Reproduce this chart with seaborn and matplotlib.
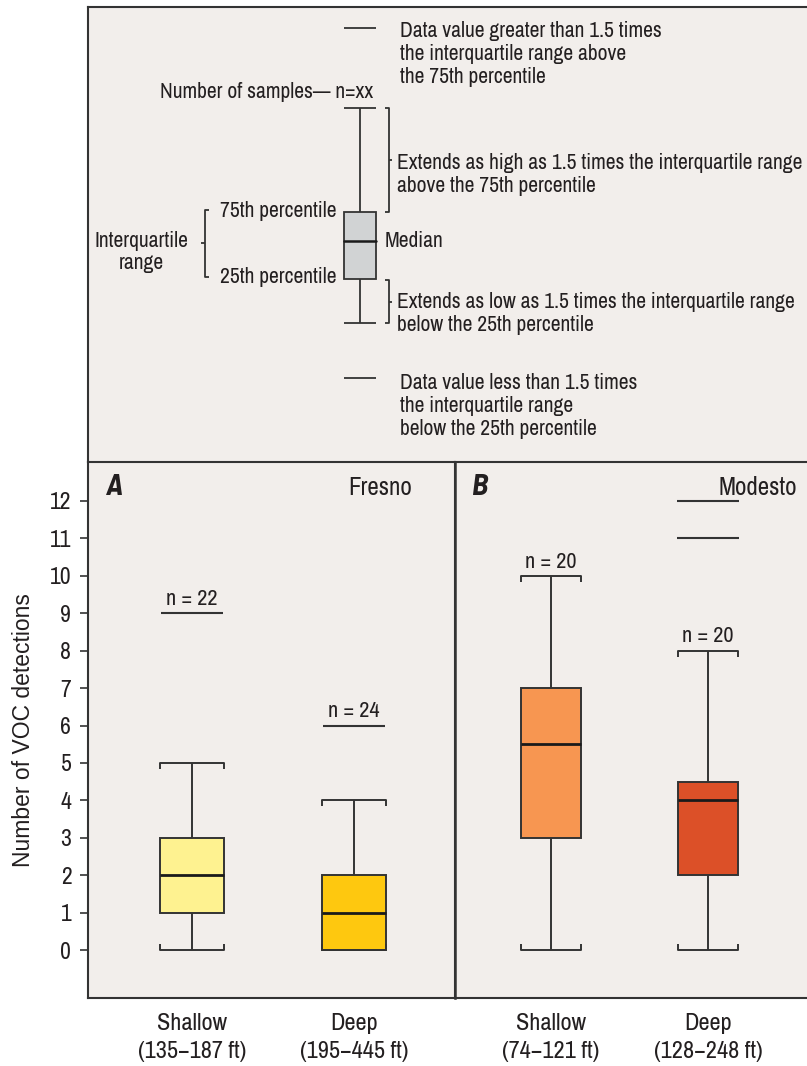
import matplotlib
matplotlib.use("Agg")
import matplotlib.pyplot as plt
from matplotlib.patches import Rectangle
import seaborn as sns
import pandas as pd

# five-number summaries: low whisker, Q1, median, Q3, high whisker
groups_a = ["Shallow A", "Deep A"]
groups_b = ["Shallow B", "Deep B"]
labels_a = ["Shallow\n(135\u2212187 ft)", "Deep\n(195\u2212445 ft)"]
labels_b = ["Shallow\n(74\u2212121 ft)", "Deep\n(128\u2212248 ft)"]
summary = {
    "Shallow A": [0, 1, 2, 3, 5],
    "Deep A": [0, 0, 1, 2, 4],
    "Shallow B": [0, 3, 5.5, 7, 10],
    "Deep B": [0, 2, 4, 4.5, 8],
}
outliers = {"Shallow A": [9], "Deep A": [6], "Shallow B": [], "Deep B": [11, 12]}
n_samples = {"Shallow A": 22, "Deep A": 24, "Shallow B": 20, "Deep B": 20}
n_label_at = {"Shallow A": 9, "Deep A": 6, "Shallow B": 10, "Deep B": 8}
colors = {"Shallow A": "#fef290", "Deep A": "#fec80f", "Shallow B": "#f79651", "Deep B": "#dc5028"}
y_ticks = list(range(0, 13))

BG = "#f2eeeb"
EDGE = "#333333"
TXT = "#231f20"
NARROW = ["Archivo Narrow", "Barlow Semi Condensed", "DejaVu Sans"]
BOLD_NARROW = ["Barlow Semi Condensed", "Liberation Sans", "DejaVu Sans"]

sns.set_theme(style="white")
plt.rcParams["font.family"] = NARROW

W, H = 807, 1066
fig = plt.figure(figsize=(W / 100, H / 100), dpi=100)
fig.patch.set_facecolor("white")


def frac(x0, y0, x1, y1):
    return [x0 / W, 1 - y1 / H, (x1 - x0) / W, (y1 - y0) / H]


# ---------- explanation panel (drawn in pixel coordinates) ----------
leg = fig.add_axes(frac(88, 7, 860, 462))
leg.set_xlim(88, 860)
leg.set_ylim(462, 7)
leg.set_facecolor(BG)
leg.set_xticks([])
leg.set_yticks([])
for side, sp in leg.spines.items():
    sp.set_color(EDGE)
    sp.set_linewidth(1.5)
    sp.set_visible(side in ("left", "top"))

lk = dict(color=EDGE, lw=1.3, solid_capstyle="butt")
fs_leg = 15.5
leg.plot([344, 376], [28, 28], **lk)
leg.plot([344, 376], [378, 378], **lk)
leg.plot([344, 376], [108, 108], **lk)
leg.plot([344, 376], [323, 323], **lk)
leg.plot([360, 360], [108, 212], **lk)
leg.plot([360, 360], [279, 323], **lk)
leg.add_patch(Rectangle((344, 212), 32, 67, facecolor="#d1d3d4", edgecolor=EDGE, lw=1.3))
leg.plot([344, 376], [241, 241], color="#1a1a1a", lw=1.8)
# right brackets
leg.plot([385, 389, 389, 385], [108, 108, 212, 212], **lk)
leg.plot([389, 392], [160, 160], **lk)
leg.plot([385, 389, 389, 385], [280, 280, 323, 323], **lk)
leg.plot([389, 392], [302, 302], **lk)
# left bracket
leg.plot([209, 205, 205, 209], [210, 210, 277, 277], **lk)
leg.plot([205, 201], [243, 243], **lk)

tk = dict(fontsize=fs_leg, color=TXT, va="center")
leg.text(400, 31, "Data value greater than 1.5 times", **tk)
leg.text(400, 54, "the interquartile range above", **tk)
leg.text(400, 77, "the 75th percentile", **tk)
leg.text(373, 92, "Number of samples\u2014 n=xx", ha="right", **tk)
leg.text(397, 163, "Extends as high as 1.5 times the interquartile range", **tk)
leg.text(397, 186, "above the 75th percentile", **tk)
leg.text(336, 211, "75th percentile", ha="right", **tk)
leg.text(385, 241, "Median", **tk)
leg.text(336, 277, "25th percentile", ha="right", **tk)
leg.text(141, 241, "Interquartile", ha="center", **tk)
leg.text(141, 263, "range", ha="center", **tk)
leg.text(397, 302, "Extends as low as 1.5 times the interquartile range", **tk)
leg.text(397, 325, "below the 25th percentile", **tk)
leg.text(400, 383, "Data value less than 1.5 times", **tk)
leg.text(400, 406, "the interquartile range", **tk)
leg.text(400, 429, "below the 25th percentile", **tk)

# ---------- data panels ----------
ax_a = fig.add_axes(frac(88, 462, 455, 998))
ax_b = fig.add_axes(frac(455, 462, 830, 998))


def draw_panel(ax, groups, labels, width, xlim, letter, city, letter_x, city_x):
    df = pd.DataFrame(
        [(g, v) for g in groups for v in summary[g]], columns=["group", "value"]
    )
    sns.boxplot(
        data=df, x="group", y="value", hue="group", order=groups, hue_order=groups,
        palette=[colors[g] for g in groups], saturation=1, legend=False, whis=(0, 100),
        width=width, linecolor=EDGE, linewidth=1.4, fliersize=0,
        capwidths=width, medianprops=dict(color="#1a1a1a", linewidth=2.0),
        ax=ax,
    )
    # bracket-like caps
    for cont in ax.containers:
        caps = getattr(cont, "caps", [])
        for i, cap in enumerate(caps):
            cap.set_marker(2 if i % 2 == 0 else 3)
            cap.set_markersize(4)
            cap.set_markeredgewidth(1.4)
            cap.set_markeredgecolor(EDGE)
    ox = [groups.index(g) for g in groups for _ in outliers[g]]
    oy = [v for g in groups for v in outliers[g]]
    if oy:
        sns.scatterplot(x=ox, y=oy, marker="_", s=1950, color=EDGE, linewidth=1.5, ax=ax)
    for i, g in enumerate(groups):
        ax.annotate(f"n = {n_samples[g]}", (i, n_label_at[g]), xytext=(0, 3),
                    textcoords="offset points", ha="center", va="bottom",
                    fontsize=16, color=TXT)
    ax.set_xlim(*xlim)
    ax.set_ylim(-1.28, 13.04)
    ax.set_xticks(range(len(groups)))
    ax.set_xticklabels(labels, fontsize=17.5, color=TXT, linespacing=1.4)
    ax.tick_params(axis="x", length=0, pad=11)
    ax.set_xlabel("")
    ax.set_facecolor(BG)
    ax.text(letter_x, 0.953, letter, transform=ax.transAxes, fontsize=22,
            fontweight="bold", fontstyle="italic", va="center", color=TXT,
            family=BOLD_NARROW)
    ax.text(city_x, 0.953, city, transform=ax.transAxes, fontsize=18,
            ha="right", va="center", color=TXT)
    for sp in ax.spines.values():
        sp.set_color(EDGE)
        sp.set_linewidth(1.5)


draw_panel(ax_a, groups_a, labels_a, 0.395, (-0.642, 1.623), "A", "Fresno", 0.047, 0.883)
draw_panel(ax_b, groups_b, labels_b, 0.385, (-0.611, 1.777), "B", "Modesto", 0.045, 0.912)

ax_a.set_yticks(y_ticks)
ax_a.tick_params(axis="y", length=6, width=1.2, color=EDGE, pad=6,
                 labelsize=17, labelcolor=TXT, direction="out", left=True)
ax_a.set_ylabel("Number of VOC detections", fontsize=16.5, color=TXT,
                family=["Liberation Sans", "DejaVu Sans"])
ax_a.yaxis.set_label_coords(-53 / 367, 0.5)

ax_b.set_yticks(y_ticks)
ax_b.tick_params(axis="y", left=False, labelleft=False)
ax_b.set_ylabel("")
ax_b.spines["right"].set_visible(False)
ax_b.spines["left"].set_linewidth(1.8)

fig.savefig("out.png", dpi=100, facecolor="white")
